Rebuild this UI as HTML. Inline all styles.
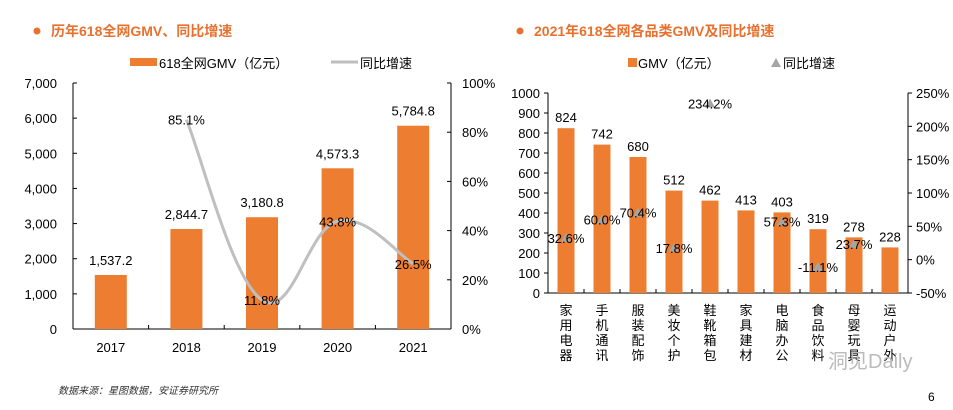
<!DOCTYPE html>
<html><head><meta charset="utf-8"><style>
body{margin:0;background:#fff;width:953px;height:405px;overflow:hidden;font-family:"Liberation Sans","Noto Sans CJK SC",sans-serif}
svg text{font-family:"Liberation Sans","Noto Sans CJK SC",sans-serif}
</style></head><body>
<svg id="s" width="953" height="405" xmlns="http://www.w3.org/2000/svg">
<circle cx="37" cy="31" r="3.5" fill="#E8712F"/>
<text x="51" y="36" font-size="14" font-weight="bold" fill="#E8712F">历年618全网GMV、同比增速</text>
<circle cx="520" cy="31" r="3.5" fill="#E8712F"/>
<text x="534" y="36" font-size="14" font-weight="bold" fill="#E8712F">2021年618全网各品类GMV及同比增速</text>
<g>
<rect x="130" y="58" width="27" height="8" fill="#ED7D31"/>
<text x="159" y="68" font-size="13">618全网GMV（亿元）</text>
<line x1="331" y1="62" x2="358" y2="62" stroke="#BFBFBF" stroke-width="3"/>
<text x="360" y="68" font-size="13">同比增速</text>
</g>
<g>
<rect x="628" y="58" width="9" height="9" fill="#ED7D31"/>
<text x="638" y="68" font-size="13">GMV（亿元）</text>
<polygon points="776,58 771,67 781,67" fill="#A5A5A5"/>
<text x="783" y="68" font-size="13">同比增速</text>
</g>
<g id="L"></g><g id="R"></g>
<text x="58" y="394" font-size="10" font-style="italic" fill="#333">数据来源：星图数据，安证券研究所</text>
<text x="828" y="368" font-size="20" fill="#bbb">洞见Daily</text>
<text x="928" y="401" font-size="12">6</text>
</svg>
<script>
const years=["2017","2018","2019","2020","2021"];
const gmv=[1537.2,2844.7,3180.8,4573.3,5784.8];
const gmvLabels=["1,537.2","2,844.7","3,180.8","4,573.3","5,784.8"];
const growth=[null,85.1,11.8,43.8,26.5];
const leftTicks=[0,1000,2000,3000,4000,5000,6000,7000];
const leftTickLabels=["0","1,000","2,000","3,000","4,000","5,000","6,000","7,000"];
const rightTicks=[0,20,40,60,80,100];

const cats=["家用电器","手机通讯","服装配饰","美妆个护","鞋靴箱包","家具建材","电脑办公","食品饮料","母婴玩具","运动户外"];
const catGmv=[824,742,680,512,462,413,403,319,278,228];
const catGrowth=[32.6,60.0,70.4,17.8,234.2,null,57.3,-11.1,23.7,null];
const catTicks=[0,100,200,300,400,500,600,700,800,900,1000];
const catPctTicks=[-50,0,50,100,150,200,250];

const NS="http://www.w3.org/2000/svg";
function mk(p,t,a,txt){const e=document.createElementNS(NS,t);for(const k in a)e.setAttribute(k,a[k]);if(txt!=null)e.textContent=txt;p.appendChild(e);return e;}

// left chart
const L=document.getElementById('L');
const lx0=73,lx1=451,ly0=329,ly1=83;
const ly=v=>ly0-(v/7000)*(ly0-ly1);
const lyp=v=>ly0-(v/100)*(ly0-ly1);
const lbw=(lx1-lx0)/years.length;
const lcx=i=>lx0+lbw*(i+0.5);
let e;
e=mk(L,'line',{x1:lx0,y1:ly1,x2:lx0,y2:ly0,stroke:'#000'});


e=mk(L,'line',{x1:lx1,y1:ly1,x2:lx1,y2:ly0,stroke:'#000'});


e=mk(L,'line',{x1:lx0,y1:ly0,x2:lx1,y2:ly0,stroke:'#000'});


leftTicks.forEach((t,i)=>{mk(L,'line',{x1:lx0,y1:ly(t),x2:lx0+4,y2:ly(t),stroke:'#000'});
e=mk(L,'text',{x:lx0-16,y:ly(t)+5,'font-size':13,'text-anchor':'end'},leftTickLabels[i]);

});
rightTicks.forEach(t=>{mk(L,'line',{x1:lx1,y1:lyp(t),x2:lx1-4,y2:lyp(t),stroke:'#000'});
e=mk(L,'text',{x:lx1+11,y:lyp(t)+5,'font-size':13},t+'%');

});
for(let i=1;i<years.length;i++)mk(L,'line',{x1:lx0+lbw*i,y1:ly0,x2:lx0+lbw*i,y2:ly0-4,stroke:'#000'});
years.forEach((y,i)=>{
e=mk(L,'rect',{x:lcx(i)-16,y:ly(gmv[i]),width:32,height:ly0-ly(gmv[i]),fill:'#ED7D31'});


e=mk(L,'text',{x:lcx(i),y:ly(gmv[i])-10,'font-size':13,'text-anchor':'middle'},gmvLabels[i]);


e=mk(L,'text',{x:lcx(i),y:ly0+23,'font-size':13,'text-anchor':'middle'},y);


});
// smooth line (catmull-rom)
const pts=[];growth.forEach((g,i)=>{if(g!=null)pts.push([lcx(i),lyp(g)]);});
let d='M'+pts[0][0]+','+pts[0][1];
for(let i=0;i<pts.length-1;i++){const p0=pts[i-1]||pts[i],p1=pts[i],p2=pts[i+1],p3=pts[i+2]||p2;
const t=0.2;
d+=` C${p1[0]+(p2[0]-p0[0])*t},${p1[1]+(p2[1]-p0[1])*t} ${p2[0]-(p3[0]-p1[0])*t},${p2[1]-(p3[1]-p1[1])*t} ${p2[0]},${p2[1]}`;}
e=mk(L,'path',{d:d,fill:'none',stroke:'#BFBFBF','stroke-width':3});


growth.forEach((g,i)=>{if(g==null)return;
e=mk(L,'text',{x:lcx(i),y:lyp(g)+5,'font-size':13,'text-anchor':'middle'},g.toFixed(1)+'%');

});

// right chart
const R=document.getElementById('R');
const rx0=548,rx1=908,ry0=293,ry1=93;
const ry=v=>ry0-(v/1000)*(ry0-ry1);
const ryp=v=>ry0-((v+50)/300)*(ry0-ry1);
const rbw=(rx1-rx0)/cats.length;
const rcx=i=>rx0+rbw*(i+0.5);
e=mk(R,'line',{x1:rx0,y1:ry1,x2:rx0,y2:ry0,stroke:'#000'});


e=mk(R,'line',{x1:rx1,y1:ry1,x2:rx1,y2:ry0,stroke:'#000'});


e=mk(R,'line',{x1:rx0,y1:ry0,x2:rx1,y2:ry0,stroke:'#000'});


catTicks.forEach(t=>{mk(R,'line',{x1:rx0,y1:ry(t),x2:rx0-4,y2:ry(t),stroke:'#000'});
e=mk(R,'text',{x:rx0-8,y:ry(t)+5,'font-size':13,'text-anchor':'end'},String(t));

});
catPctTicks.forEach(t=>{mk(R,'line',{x1:rx1,y1:ryp(t),x2:rx1+4,y2:ryp(t),stroke:'#000'});
e=mk(R,'text',{x:rx1+8,y:ryp(t)+5,'font-size':13},t+'%');

});
for(let i=1;i<cats.length;i++)mk(R,'line',{x1:rx0+rbw*i,y1:ry0,x2:rx0+rbw*i,y2:ry0-4,stroke:'#000'});
cats.forEach((c,i)=>{
e=mk(R,'rect',{x:rcx(i)-8.5,y:ry(catGmv[i]),width:17,height:ry0-ry(catGmv[i]),fill:'#ED7D31'});


e=mk(R,'text',{x:rcx(i),y:ry(catGmv[i])-6,'font-size':13,'text-anchor':'middle'},String(catGmv[i]));


const g=mk(R,'text',{x:rcx(i),y:ry0+22,'font-size':13,'text-anchor':'middle'});


[...c].forEach((ch,k)=>{mk(g,'tspan',{x:rcx(i),y:ry0+22+k*15},ch);});
if(catGrowth[i]!=null){const v=catGrowth[i],cy=ryp(v);
e=mk(R,'polygon',{points:`${rcx(i)},${cy-5} ${rcx(i)-5},${cy+4} ${rcx(i)+5},${cy+4}`,fill:'#A5A5A5'});


e=mk(R,'text',{x:rcx(i),y:cy+5,'font-size':13,'text-anchor':'middle'},v.toFixed(1)+'%');

}
});
</script>
</body></html>
